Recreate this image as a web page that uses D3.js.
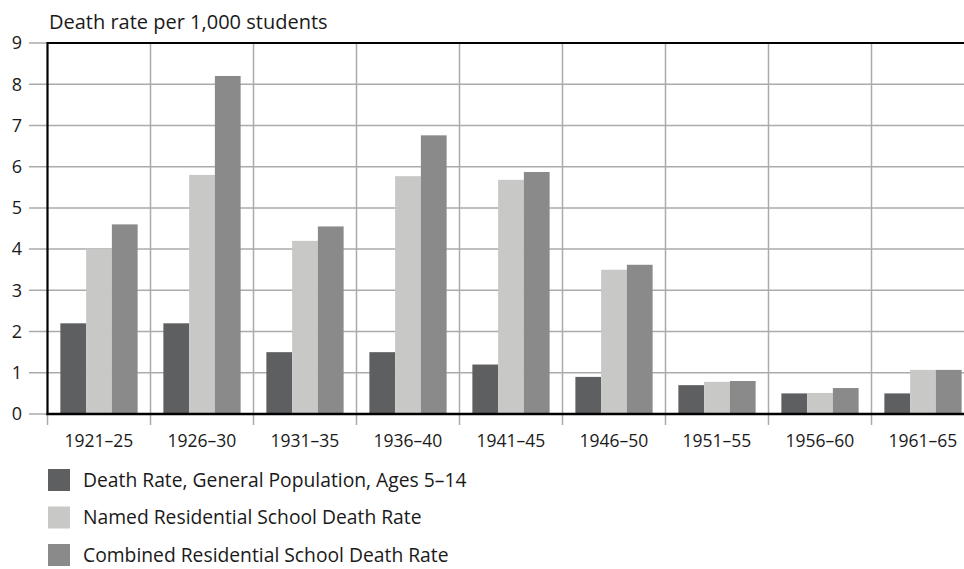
<!DOCTYPE html>
<html>
<head>
<meta charset="utf-8">
<script src="https://cdn.jsdelivr.net/npm/d3@7"></script>
<style>
  html, body { margin: 0; padding: 0; background: #fff; }
  svg { display: block; }
  text { font-family: "Open Sans", Lato, sans-serif; fill: #1a1a1a; }
</style>
</head>
<body>
<svg id="chart" width="964" height="569"></svg>
<script>
const periods = ["1921–25", "1926–30", "1931–35", "1936–40", "1941–45", "1946–50", "1951–55", "1956–60", "1961–65"];
const seriesNames = [
  "Death Rate, General Population, Ages 5–14",
  "Named Residential School Death Rate",
  "Combined Residential School Death Rate"
];
const generalPopulation = [2.2, 2.2, 1.5, 1.5, 1.2, 0.9, 0.7, 0.5, 0.5];
const namedSchool      = [4.0, 5.8, 4.2, 5.77, 5.68, 3.5, 0.78, 0.51, 1.07];
const combinedSchool   = [4.6, 8.2, 4.55, 6.76, 5.87, 3.62, 0.8, 0.63, 1.07];
const yTicks = [0, 1, 2, 3, 4, 5, 6, 7, 8, 9];
const colors = ["#5e5f61", "#c8c8c6", "#8a8a8a"];
const yTitle = "Death rate per 1,000 students";

const seriesValues = [generalPopulation, namedSchool, combinedSchool];

const svg = d3.select("#chart");
const plotLeft = 47.5, plotRight = 974.5, plotTop = 43, plotBottom = 414;

const x0 = d3.scaleBand().domain(periods).range([plotLeft, plotRight]).paddingInner(0.25).paddingOuter(0.125);
const x1 = d3.scaleBand().domain(d3.range(3)).range([0, x0.bandwidth()]);
const y = d3.scaleLinear().domain([0, 9]).range([plotBottom, plotTop]);

// horizontal gridlines + left tick stubs
svg.append("g").selectAll("line").data(yTicks).join("line")
  .attr("x1", 29).attr("x2", plotRight)
  .attr("y1", d => y(d)).attr("y2", d => y(d))
  .attr("stroke", "#ababab").attr("stroke-width", 1.5);

// vertical gridlines at band boundaries (extend below axis as ticks)
const boundaries = periods.map(p => x0(p) - x0.step() * x0.paddingInner() / 2).slice(1);
svg.append("g").selectAll("line").data(boundaries).join("line")
  .attr("x1", d => d).attr("x2", d => d)
  .attr("y1", plotTop).attr("y2", plotBottom + 11)
  .attr("stroke", "#ababab").attr("stroke-width", 1.5);
svg.append("line").attr("x1", plotLeft).attr("x2", plotLeft).attr("y1", plotBottom).attr("y2", plotBottom + 11)
  .attr("stroke", "#ababab").attr("stroke-width", 1.5);

// bars
const groups = svg.append("g").selectAll("g").data(periods).join("g")
  .attr("transform", p => `translate(${x0(p)},0)`);
groups.selectAll("rect").data((p, i) => seriesValues.map((s, k) => ({k, v: s[i]}))).join("rect")
  .attr("x", d => x1(d.k)).attr("width", x1.bandwidth())
  .attr("y", d => y(d.v)).attr("height", d => y(0) - y(d.v))
  .attr("fill", d => colors[d.k]);

// frame lines (black)
svg.append("line").attr("x1", plotLeft).attr("x2", plotRight).attr("y1", plotTop).attr("y2", plotTop)
  .attr("stroke", "#000").attr("stroke-width", 2.2);
svg.append("line").attr("x1", plotLeft).attr("x2", plotLeft).attr("y1", plotTop - 1).attr("y2", plotBottom + 1)
  .attr("stroke", "#000").attr("stroke-width", 2.2);
svg.append("line").attr("x1", plotLeft - 1).attr("x2", plotRight).attr("y1", plotBottom).attr("y2", plotBottom)
  .attr("stroke", "#000").attr("stroke-width", 2.6);

// y labels
svg.append("g").selectAll("text").data(yTicks).join("text")
  .attr("x", 22).attr("y", d => y(d)).attr("dy", "0.35em")
  .attr("text-anchor", "end").attr("font-size", 18).text(d => d);

// x labels
svg.append("g").selectAll("text").data(periods).join("text")
  .attr("x", p => x0(p) + x0.bandwidth() / 2).attr("y", 447)
  .attr("text-anchor", "middle").attr("font-size", 17.5).text(p => p);

// title
svg.append("text").attr("x", 49).attr("y", 29).attr("font-size", 20).text(yTitle);

// legend
const lg = svg.append("g").selectAll("g").data(seriesNames).join("g")
  .attr("transform", (d, i) => `translate(48,${469 + i * 37.5})`);
lg.append("rect").attr("width", 22).attr("height", 22).attr("fill", (d, i) => colors[i]);
lg.append("text").attr("x", 35).attr("y", 11).attr("dy", "0.36em").attr("font-size", 19.3).text(d => d);
</script>
</body>
</html>
